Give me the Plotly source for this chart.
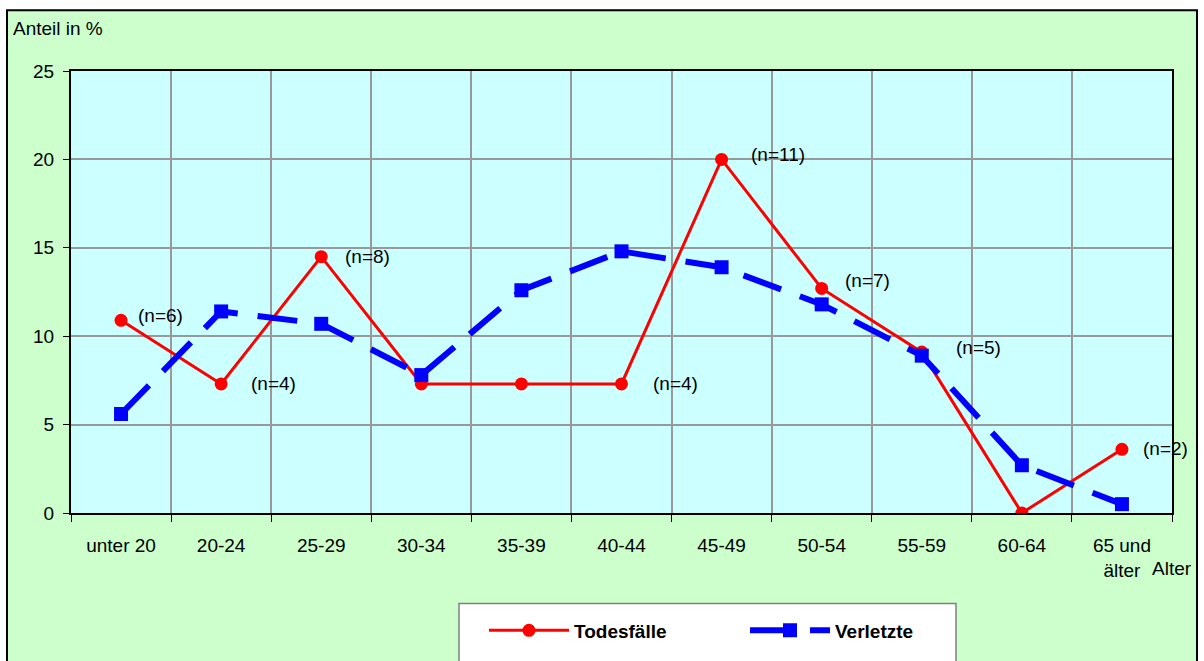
import plotly.graph_objects as go

categories = ["unter 20", "20-24", "25-29", "30-34", "35-39", "40-44",
              "45-49", "50-54", "55-59", "60-64", "65 und<br>älter"]
todesfaelle = [10.9, 7.3, 14.5, 7.3, 7.3, 7.3, 20.0, 12.7, 9.1, 0.0, 3.6]
verletzte = [5.6, 11.4, 10.7, 7.8, 12.6, 14.8, 13.9, 11.8, 8.9, 2.7, 0.5]
n_labels = ["(n=6)", "(n=4)", "(n=8)", None, None, "(n=4)", "(n=11)", "(n=7)", "(n=5)", None, "(n=2)"]
label_shift = [(15, 5), (28, 0), (22, 0), None, None, (29, 0), (27, 5), (21, 8), (32, 5), None, (19, 1)]
y_ticks = [0, 5, 10, 15, 20, 25]

W, H = 1204, 661
L, R, T, B = 71, 1172, 71, 515

def px(x):
    return (x - L) / (R - L)

def py(y):
    return (B - y) / (B - T)

FONT = "Liberation Sans, Arial, sans-serif"
FS = 19

fig = go.Figure()
fig.add_trace(go.Scatter(
    x=categories, y=todesfaelle, name="Todesfälle", mode="lines+markers",
    line=dict(color="#FF0000", width=3),
    marker=dict(symbol="circle", size=13, color="#FF0000"),
))
fig.add_trace(go.Scatter(
    x=categories, y=verletzte, name="Verletzte", mode="lines+markers",
    line=dict(color="#0000FF", width=6, dash="40px,20px"),
    marker=dict(symbol="square", size=14, color="#0000FF"),
))

annotations = []
for c, v, lab, sh in zip(categories, todesfaelle, n_labels, label_shift):
    if lab is None:
        continue
    annotations.append(dict(
        x=c, y=v, xref="x", yref="y", text=lab, showarrow=False,
        xanchor="left", yanchor="middle", xshift=sh[0], yshift=sh[1],
        font=dict(family=FONT, size=FS, color="black"),
    ))
annotations.append(dict(
    x=px(11), y=py(28), xref="paper", yref="paper", text="Anteil in %",
    showarrow=False, xanchor="left", yanchor="middle",
    font=dict(family=FONT, size=FS, color="black"),
))
annotations.append(dict(
    x=px(1194), y=py(571), xref="paper", yref="paper", text="Alter",
    showarrow=False, xanchor="right", yanchor="middle",
    font=dict(family=FONT, size=FS, color="black"),
))

shapes = [
    # white surround outside the chart area
    dict(type="rect", xref="paper", yref="paper", layer="below",
         x0=px(-10), x1=px(7), y0=py(700), y1=py(-10),
         fillcolor="white", line=dict(width=0)),
    dict(type="rect", xref="paper", yref="paper", layer="below",
         x0=px(-10), x1=px(1214), y0=py(10), y1=py(-10),
         fillcolor="white", line=dict(width=0)),
    dict(type="rect", xref="paper", yref="paper", layer="below",
         x0=px(1197), x1=px(1214), y0=py(700), y1=py(-10),
         fillcolor="white", line=dict(width=0)),
    # chart area frame
    dict(type="rect", xref="paper", yref="paper", layer="below",
         x0=px(7), x1=px(1197), y0=py(700), y1=py(10),
         fillcolor="rgba(0,0,0,0)", line=dict(color="black", width=2)),
    # legend box
    dict(type="rect", xref="paper", yref="paper", layer="below",
         x0=px(459), x1=px(956), y0=py(700), y1=py(606),
         fillcolor="white", line=dict(color="#808080", width=1.5)),
]

fig.update_layout(
    width=W, height=H,
    margin=dict(l=L, r=W - R, t=T, b=H - B),
    paper_bgcolor="#CCFFCC", plot_bgcolor="#CCFFFF",
    font=dict(family=FONT, size=FS, color="black"),
    showlegend=True,
    legend=dict(
        orientation="h", x=px(484), y=py(633), xanchor="left", yanchor="middle",
        bgcolor="rgba(0,0,0,0)", borderwidth=0, itemwidth=80,
        font=dict(family=FONT, size=FS, color="black", weight="bold"),
        traceorder="normal", entrywidth=166,
    ),
    annotations=annotations,
    shapes=shapes,
)
fig.update_xaxes(
    type="category", range=[-0.5, len(categories) - 0.5],
    tickson="boundaries", ticks="outside", ticklen=7, tickcolor="black", tickwidth=1,
    showgrid=True, gridcolor="#999999", gridwidth=2,
    showline=True, linecolor="black", linewidth=2, mirror=True,
    tickfont=dict(family=FONT, size=FS, color="black"), ticklabelstandoff=14,
)
fig.update_yaxes(
    range=[0, 25], tickvals=y_ticks, ticks="outside", ticklen=6, tickcolor="black",
    showgrid=True, gridcolor="#999999", gridwidth=2, zeroline=False,
    showline=True, linecolor="black", linewidth=2, mirror=True,
    tickfont=dict(family=FONT, size=FS, color="black"), ticklabelstandoff=5,
)

fig.write_html("out.html", config={"displayModeBar": False},
               post_script="document.body.style.margin='0';")
